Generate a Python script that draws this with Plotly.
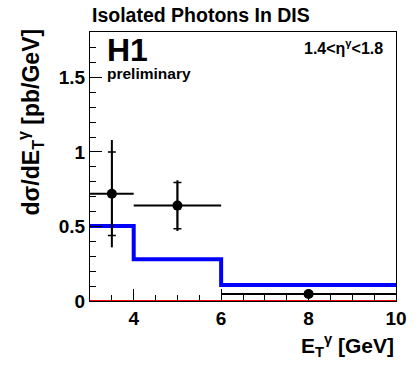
import plotly.graph_objects as go

# data
x_centers = [3.5, 5.0, 8.0]
x_halfwidth = [0.5, 1.0, 2.0]
y_values = [0.72, 0.64, 0.047]
err_total = [0.36, 0.17, 0.02]
err_stat = [0.28, 0.155, 0.015]

bin_edges = [3, 4, 6, 10]
theory = [0.503, 0.28, 0.107]
theory_zero = [0.0, 0.0, 0.0]

FONT = "Liberation Sans, Arial, sans-serif"

fig = go.Figure()

# zero (red) prediction
fig.add_trace(go.Scatter(x=bin_edges, y=theory_zero + [theory_zero[-1]], mode="lines",
                         line=dict(color="red", width=2, shape="hv"), showlegend=False, hoverinfo="skip"))
# blue histogram
fig.add_trace(go.Scatter(x=bin_edges, y=theory + [theory[-1]], mode="lines",
                         line=dict(color="#0000ff", width=4, shape="hv"), showlegend=False, hoverinfo="skip"))
# data total errors
fig.add_trace(go.Scatter(x=x_centers, y=y_values, mode="markers",
                         marker=dict(color="black", size=10),
                         error_x=dict(type="data", array=x_halfwidth, color="black", thickness=2, width=0),
                         error_y=dict(type="data", array=err_total, color="black", thickness=2, width=0),
                         showlegend=False))
# stat error ticks
fig.add_trace(go.Scatter(x=x_centers, y=y_values, mode="markers",
                         marker=dict(color="rgba(0,0,0,0)", size=1),
                         error_y=dict(type="data", array=err_stat, color="black", thickness=1.5, width=4),
                         showlegend=False, hoverinfo="skip"))

axis_common = dict(showline=True, linecolor="black", linewidth=1, mirror=True,
                   ticks="inside", tickcolor="black", showgrid=False, zeroline=False,
                   tickfont=dict(family=FONT, size=19, color="black"))

fig.update_xaxes(range=[3, 10], tickvals=[4, 6, 8, 10], ticktext=["<b>4</b>", "<b>6</b>", "<b>8</b>", "<b>10</b>"],
                 ticklen=12, minor=dict(ticks="inside", ticklen=6, dtick=0.5, tickcolor="black"),
                 **axis_common)
fig.update_yaxes(range=[0, 1.805], tickvals=[0, 0.5, 1, 1.5], ticktext=["<b>0</b>", "<b>0.5</b>", "<b>1</b>", "<b>1.5</b>"],
                 ticklen=12, minor=dict(ticks="inside", ticklen=6, dtick=0.1, tickcolor="black"),
                 **axis_common)

annotations = [
    dict(text="<b>Isolated Photons In DIS</b>", x=0.0, y=1.063, xanchor="left", yanchor="middle",
         font=dict(size=19.5, family=FONT)),
    dict(text="<b>H1</b>", x=0.05, y=0.933, xanchor="left", yanchor="middle",
         font=dict(size=32, family=FONT)),
    dict(text="<b>preliminary</b>", x=0.05, y=0.845, xanchor="left", yanchor="middle",
         font=dict(size=15.5, family=FONT)),
    dict(text="<b>1.4<η<sup>γ</sup><1.8</b>", x=0.965, y=0.945, xanchor="right", yanchor="middle",
         font=dict(size=16, family=FONT)),
    dict(text="<b>dσ/dE<sub>T</sub><sup>γ</sup> [pb/GeV]</b>", x=-0.195, y=1.02, xanchor="center", yanchor="top",
         textangle=-90, font=dict(size=23, family=FONT)),
    dict(text="<b>E<sub>T</sub><sup>γ</sup> [GeV]</b>", x=1.0, y=-0.165, xanchor="right", yanchor="middle",
         font=dict(size=21, family=FONT)),
]
for a in annotations:
    a.update(xref="paper", yref="paper", showarrow=False, font=dict(color="black", **a["font"]))

fig.update_layout(width=419, height=373, margin=dict(l=90, r=21, t=32, b=72),
                  paper_bgcolor="white", plot_bgcolor="white", annotations=annotations,
                  font=dict(family=FONT, color="black"))

fig.write_html("out.html", config={"displayModeBar": False},
               post_script="document.body.style.margin='0';document.body.style.overflow='hidden';")
